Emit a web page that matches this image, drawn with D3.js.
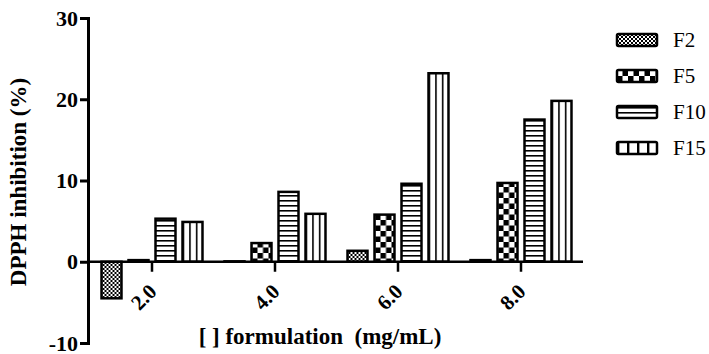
<!DOCTYPE html>
<html>
<head>
<meta charset="utf-8">
<script src="https://cdn.jsdelivr.net/npm/d3@7"></script>
<style>
  body { margin: 0; background: #fff; }
  svg text { font-family: "Liberation Serif", "Times New Roman", serif; }
</style>
</head>
<body>
<div id="chart"></div>
<script>
(function () {

const categories = ['2.0', '4.0', '6.0', '8.0'];
const seriesNames = ['F2', 'F5', 'F10', 'F15'];
const f2Values = [-4.5, 0.05, 1.35, 0.2];
const f5Values = [0.2, 2.3, 5.8, 9.7];
const f10Values = [5.3, 8.6, 9.6, 17.5];
const f15Values = [4.9, 5.9, 23.2, 19.8];
const yTicks = [-10, 0, 10, 20, 30];

const [WIDTH, HEIGHT] = [709, 354];
const FONT = '"Liberation Serif", "Times New Roman", serif';

const seriesValues = [f2Values, f5Values, f10Values, f15Values];
const patternIds = ['pat-f2', 'pat-f5', 'pat-f10', 'pat-f15'];

const svg = d3.select('#chart').append('svg')
    .attr('width', WIDTH)
    .attr('height', HEIGHT)
    .attr('viewBox', `0 0 ${WIDTH} ${HEIGHT}`)
    .attr('font-family', FONT);

const defs = svg.append('defs');

function checker(id, cell) {
    const p = defs.append('pattern')
        .attr('id', id)
        .attr('patternUnits', 'userSpaceOnUse')
        .attr('width', cell * 2).attr('height', cell * 2);
    p.append('rect').attr('width', cell * 2).attr('height', cell * 2).attr('fill', '#fff');
    p.append('rect').attr('width', cell).attr('height', cell).attr('fill', '#000');
    p.append('rect').attr('x', cell).attr('y', cell)
        .attr('width', cell).attr('height', cell).attr('fill', '#000');
}

function columns(id, n) {
    // n vertical columns per box, line at left of each
    const p = defs.append('pattern')
        .attr('id', id)
        .attr('patternUnits', 'objectBoundingBox')
        .attr('patternContentUnits', 'objectBoundingBox')
        .attr('width', 1 / n).attr('height', 1);
    p.append('rect').attr('width', 1 / n).attr('height', 1).attr('fill', '#fff');
    p.append('rect').attr('width', 0.08 * 3 / n).attr('height', 1).attr('fill', '#000');
}

checker('pat-f2', 2);
checker('pat-f5', 5.5);

// horizontal lines (F10)
const p10 = defs.append('pattern')
    .attr('id', 'pat-f10')
    .attr('patternUnits', 'userSpaceOnUse')
    .attr('width', 10).attr('height', 5);
p10.append('rect').attr('width', 10).attr('height', 5).attr('fill', '#fff');
p10.append('rect').attr('width', 10).attr('height', 1.6).attr('fill', '#000');

columns('pat-f15', 3);
columns('pat-f15-legend', 4);

const x0 = d3.scaleBand()
    .domain(categories)
    .range([90.5, 582.5])
    .padding(0);

const x1 = d3.scaleBand()
    .domain(seriesNames)
    .range([7.5, 115.5])
    .paddingInner(0.26)
    .paddingOuter(0.13);

const y = d3.scaleLinear()
    .domain([-10, 30])
    .range([343, 18]);

// bars
const groups = svg.append('g').selectAll('g')
    .data(categories)
    .join('g')
    .attr('transform', (d) => `translate(${x0(d)},0)`);

groups.selectAll('rect')
    .data((cat, ci) => seriesNames.map((s, si) => ({
        series: s, idx: si, value: seriesValues[si][ci],
    })))
    .join('rect')
    .attr('x', (d) => x1(d.series))
    .attr('width', x1.bandwidth())
    .attr('y', (d) => y(Math.max(0, d.value)))
    .attr('height', (d) => Math.abs(y(d.value) - y(0)))
    .attr('fill', (d) => `url(#${patternIds[d.idx]})`)
    .attr('stroke', '#000')
    .attr('stroke-width', 2.5);

// y axis
const yAxis = svg.append('g')
    .attr('transform', 'translate(88,0)')
    .call(d3.axisLeft(y).tickValues(yTicks).tickSize(8).tickPadding(2)
        .tickFormat((d) => String(d)))
    .attr('font-family', FONT);
yAxis.select('.domain').attr('stroke-width', 3);
yAxis.selectAll('.tick line').attr('stroke-width', 3);
yAxis.selectAll('.tick text')
    .attr('font-size', 22)
    .attr('font-weight', 'bold')
    .attr('fill', '#000');

// x axis along zero
const xAxis = svg.append('g')
    .attr('transform', `translate(0,${y(0)})`)
    .call(d3.axisBottom(x0).tickSize(10).tickSizeOuter(0).tickFormat(''));
xAxis.select('.domain').attr('stroke-width', 2.5).attr('d', 'M88,0H583');
xAxis.selectAll('.tick line').attr('stroke-width', 2.5);

// rotated category labels
svg.append('g').selectAll('text')
    .data(categories)
    .join('text')
    .attr('transform', (d) => `translate(${x0(d) + x0.bandwidth() / 2 + 6},${y(0) + 31}) rotate(-45)`)
    .attr('text-anchor', 'end')
    .attr('font-size', 21)
    .attr('font-weight', 'bold')
    .text((d) => d);

// axis titles
svg.append('text')
    .attr('transform', 'translate(26,182) rotate(-90)')
    .attr('text-anchor', 'middle')
    .attr('font-size', 23)
    .attr('font-weight', 'bold')
    .text('DPPH inhibition (%)');

svg.append('text')
    .attr('x', 320)
    .attr('y', 344)
    .attr('text-anchor', 'middle')
    .attr('font-size', 23)
    .attr('font-weight', 'bold')
    .attr('xml:space', 'preserve')
    .text('[ ] formulation  (mg/mL)');

// legend
const legend = svg.append('g').selectAll('g')
    .data(seriesNames)
    .join('g')
    .attr('transform', (d, i) => `translate(617,${40 + i * 36})`);

legend.append('rect')
    .attr('x', 0)
    .attr('y', -6)
    .attr('width', 40)
    .attr('height', 12)
    .attr('rx', 1.5)
    .attr('fill', (d, i) => i === 3 ? 'url(#pat-f15-legend)' : `url(#${patternIds[i]})`)
    .attr('stroke', '#000')
    .attr('stroke-width', 2.5);

legend.append('text')
    .attr('x', 56)
    .attr('y', 0)
    .attr('dy', '0.35em')
    .attr('font-size', 21)
    .text((d) => d);

})();
</script>
</body>
</html>
